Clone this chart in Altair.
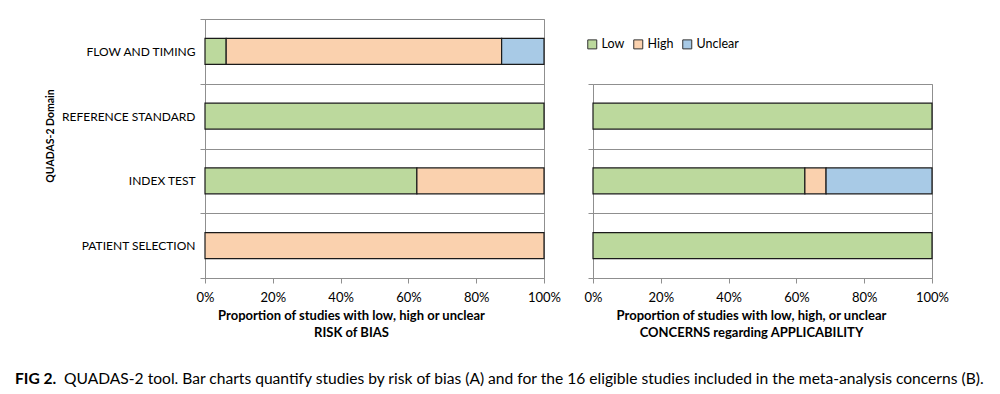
import altair as alt
import pandas as pd

# ---------------- data ----------------
domains = ["FLOW AND TIMING", "REFERENCE STANDARD", "INDEX TEST", "PATIENT SELECTION"]
levels = ["Low", "High", "Unclear"]
level_colors = ["#BCD99D", "#FAD1AE", "#A8CAE6"]

# Panel A: risk of bias (proportion of 16 studies)
bias_low = [0.0625, 1.0, 0.625, 0.0]
bias_high = [0.8125, 0.0, 0.375, 1.0]
bias_unclear = [0.125, 0.0, 0.0, 0.0]

# Panel B: applicability concerns
app_domains = ["REFERENCE STANDARD", "INDEX TEST", "PATIENT SELECTION"]
app_low = [1.0, 0.625, 1.0]
app_high = [0.0, 0.0625, 0.0]
app_unclear = [0.0, 0.3125, 0.0]

x_ticks = [0, 0.2, 0.4, 0.6, 0.8, 1.0]
bias_title = ["Proportion of studies with low, high or unclear", "RISK of BIAS"]
app_title = ["Proportion of studies with low, high, or unclear", "CONCERNS regarding APPLICABILITY"]
y_title = "QUADAS-2 Domain"
caption_bold = "FIG 2."
caption_text = ("QUADAS-2 tool. Bar charts quantify studies by risk of bias (A) and for the "
                "16 eligible studies included in the meta-analysis concerns (B).")


def to_long(doms, lo, hi, un):
    rows = []
    for i, d in enumerate(doms):
        for k, (lev, vals) in enumerate(zip(levels, [lo, hi, un])):
            if vals[i] > 0:
                rows.append({"domain": d, "level": lev, "value": vals[i], "ord": k})
    return pd.DataFrame(rows)


df_a = to_long(domains, bias_low, bias_high, bias_unclear)
df_b = to_long(app_domains, app_low, app_high, app_unclear)

# ---------------- style ----------------
W = 339
H = 259
BAND = H / len(domains)
FONT = "Lato"
GRID = "#8f8f8f"
BAR_STROKE = "#1a1a1a"


def x_axis(title, tx):
    return alt.Axis(
        title=title, titleX=tx, values=x_ticks, format="%", labelFlush=False,
        labelFont=FONT, labelFontSize=13, labelColor="black", labelPadding=8,
        tickSize=5, tickColor=GRID, domainColor=GRID, grid=False,
        titleFont=FONT, titleFontSize=13, titleFontWeight="bold", titleColor="black",
        titleLineHeight=17, titlePadding=5,
    )


y_common = dict(tickBand="extent", grid=True, gridColor=GRID, domainColor=GRID,
                tickColor=GRID, tickSize=5)

color_scale = alt.Scale(domain=levels, range=level_colors)
x_scale = alt.Scale(domain=[0, 1], nice=False)

# ---------------- panel A ----------------
bars_a = alt.Chart(df_a).mark_bar(
    height=alt.RelativeBandSize(0.4), stroke=BAR_STROKE, strokeWidth=1.2
).encode(
    x=alt.X("value:Q", stack="zero", scale=x_scale, axis=x_axis(bias_title, 146)),
    y=alt.Y("domain:N", sort=domains,
            scale=alt.Scale(domain=domains, paddingInner=0, paddingOuter=0),
            axis=alt.Axis(
                title=y_title, labelPadding=5, labelFont=FONT, labelFontSize=12,
                labelColor="black", titleFont=FONT, titleFontSize=10.5,
                titleFontWeight="bold", titleColor="black", titleX=-150, titleY=116.5,
                **y_common)),
    color=alt.Color("level:N", scale=color_scale, legend=None),
    order=alt.Order("ord:Q", sort="ascending"),
)

left = bars_a.properties(width=W, height=H, view=alt.ViewBackground(stroke=GRID))

# ---------------- panel B ----------------
y_scale_b = alt.Scale(domain=app_domains, paddingInner=0, paddingOuter=0,
                      range=[H - BAND * len(app_domains), H])

bars_b = alt.Chart(df_b).mark_bar(
    height=alt.RelativeBandSize(0.4), stroke=BAR_STROKE, strokeWidth=1.2
).encode(
    x=alt.X("value:Q", stack="zero", scale=x_scale, axis=x_axis(app_title, 158)),
    y=alt.Y("domain:N", sort=app_domains, scale=y_scale_b,
            axis=alt.Axis(title=None, labels=False, **y_common)),
    color=alt.Color("level:N", scale=color_scale, legend=alt.Legend(
        orient="none", legendX=-7, legendY=19,
        direction="horizontal", title=None,
        symbolType="square", symbolSize=81, symbolStrokeColor="#333333",
        symbolStrokeWidth=1, labelFont=FONT, labelFontSize=12.5, labelColor="black",
        labelOffset=3, columnPadding=6)),
    order=alt.Order("ord:Q", sort="ascending"),
)

# right-hand frame edge, drawn as the domain line of a label-less right axis
edge_b = alt.Chart(df_b).mark_point(opacity=0).encode(
    y=alt.Y("domain:N", sort=app_domains, scale=y_scale_b,
            axis=alt.Axis(orient="right", title=None, labels=False, ticks=False,
                          grid=False, domainColor=GRID)),
)

right = alt.layer(bars_b, edge_b).resolve_scale(y="independent").resolve_axis(
    y="independent"
).properties(width=W, height=H, view=alt.ViewBackground(strokeOpacity=0))

top_row = alt.hconcat(left, right, spacing=22).resolve_scale(color="independent")

# ---------------- caption ----------------
cap1 = alt.Chart(pd.DataFrame({"t": [caption_bold]})).mark_text(
    align="left", baseline="top", font=FONT, fontSize=15.6, fontWeight="bold", color="black"
).encode(text="t:N", x=alt.value(-190), y=alt.value(0))

cap2 = alt.Chart(pd.DataFrame({"t": [caption_text]})).mark_text(
    align="left", baseline="top", font=FONT, fontSize=15.6, color="black"
).encode(text="t:N", x=alt.value(-141), y=alt.value(0))

caption = alt.layer(cap1, cap2).properties(
    width=1, height=1, view=alt.ViewBackground(strokeOpacity=0)
)

chart = alt.vconcat(top_row, caption, spacing=32).properties(
    padding={"left": 7, "top": 4, "right": 0, "bottom": 0},
    background="white",
)

chart.save("out.html", embed_options={"renderer": "svg", "actions": False})
